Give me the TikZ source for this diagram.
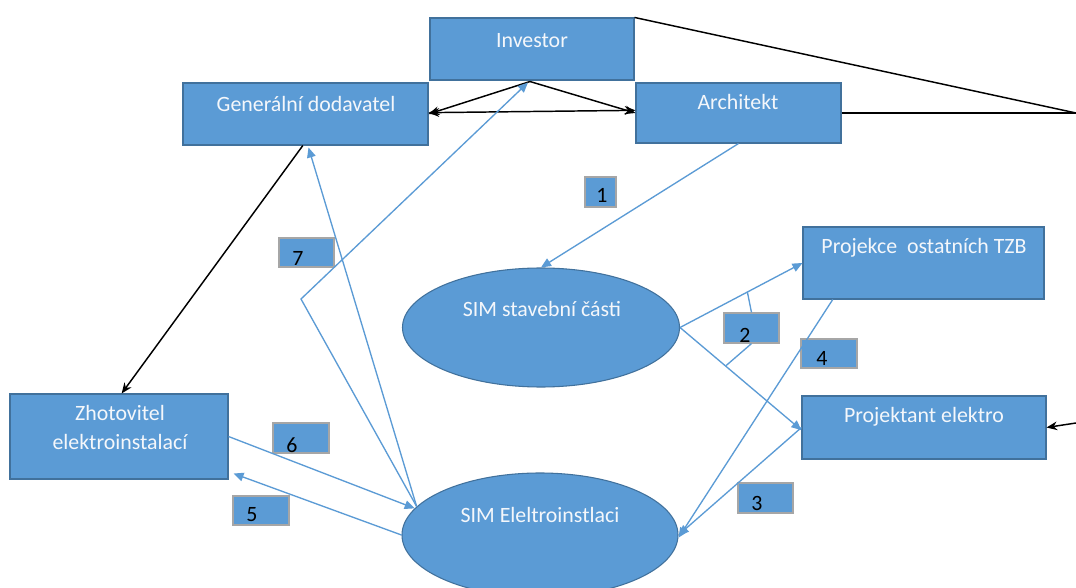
\documentclass[tikz,border=0pt]{standalone}
\usepackage{fontspec}
\setmainfont{Carlito}
\usetikzlibrary{arrows.meta,shapes.geometric,calc}
\definecolor{boxblue}{HTML}{5B9BD5}
\definecolor{boxedge}{HTML}{41719C}
\definecolor{lbledge}{HTML}{A6A6A6}
\definecolor{txtw}{HTML}{F4F7FB}
\begin{document}
\begin{tikzpicture}[x=0.75pt,y=-0.75pt,
  box/.style={rectangle,draw=boxedge,fill=boxblue,line width=0.8pt,inner sep=0pt},
  oval/.style={ellipse,draw=boxedge,fill=boxblue,line width=0.8pt,inner sep=0pt},
  txt/.style={text=txtw,font=\fontsize{16.4}{22}\selectfont,inner sep=0pt,align=center},
  numbox/.style={rectangle,draw=lbledge,fill=boxblue,line width=0.9pt,inner sep=0pt,minimum height=22.5pt},
  num/.style={text=black,font=\fontsize{16.4}{20}\selectfont,inner sep=0pt},
  bl/.style={draw=boxblue,line width=1pt,-{Triangle[length=7.5pt,width=6.5pt]}},
  blp/.style={draw=boxblue,line width=1pt},
  bk/.style={draw=black,line width=1.1pt,-{Stealth[length=8pt,width=6.5pt]}},
  bkb/.style={draw=black,line width=1.1pt,{Stealth[length=8pt,width=6.5pt]}-{Stealth[length=8pt,width=6.5pt]}},
  bkl/.style={draw=black,line width=1.1pt}]
\useasboundingbox (0,0) rectangle (1076,588);
\fill[white] (0,0) rectangle (1076,588);

% main boxes
\node[box,minimum width=153pt,minimum height=46.5pt] (inv) at (532,49) {};
\node[box,minimum width=183.75pt,minimum height=46.5pt] (gen) at (305.5,114) {};
\node[box,minimum width=153.75pt,minimum height=45pt] (arch) at (738.5,113) {};
\node[box,minimum width=163.5pt,minimum height=63.75pt] (zho) at (119,436.5) {};
\node[box,minimum width=180.75pt,minimum height=54pt] (proj) at (923.5,263) {};
\node[box,minimum width=183pt,minimum height=47.25pt] (pel) at (924,427.5) {};
\node[oval,minimum width=207.75pt,minimum height=89.25pt] (sims) at (541,327.5) {};
\node[oval,minimum width=207pt,minimum height=93pt] (sime) at (540,535) {};

% texts
\node[txt] (invT) at (532,41) {Investor};
\node[txt] (genT) at (306,104) {Generální dodavatel};
\node[txt] (archT) at (738,102) {Architekt};
\node[txt] (zhoT1) at (120,413) {Zhotovitel};
\node[txt] (zhoT2) at (120,442) {elektroinstalací};
\node[txt] (projT) at (924,248) {Projekce~ ostatních TZB};
\node[txt] (pelT) at (924,417) {Projektant elektro};
\node[txt] (simsT) at (542,309) {SIM stavební části};
\node[txt] (simeT) at (540,515) {SIM Eleltroinstlaci};

% number boxes
\node[numbox,minimum width=23.25pt] (b1) at (600.5,192) {};
\node[numbox,minimum width=41.25pt] (b2) at (751.5,328) {};
\node[numbox,minimum width=41.25pt] (b3) at (765.5,498) {};
\node[numbox,minimum width=42pt,minimum height=21.75pt] (b4) at (829,353.5) {};
\node[numbox,minimum width=42pt,minimum height=21.75pt] (b5) at (261,510.5) {};
\node[numbox,minimum width=42pt] (b6) at (301,438) {};
\node[numbox,minimum width=41.25pt,minimum height=21.75pt] (b7) at (306.5,252.5) {};
\node[num] (n1) at (602,195) {1};
\node[num] (n2) at (745,335) {2};
\node[num] (n3) at (757,503) {3};
\node[num] (n4) at (822,358) {4};
\node[num] (n5) at (252,515) {5};
\node[num] (n6) at (292,445) {6};
\node[num] (n7) at (298,258) {7};

% free ends at the right edge
\coordinate (offA) at (1076,113);
\coordinate (offB) at (1076,423);
\coordinate (bend7) at (301,299);

% black connectors
\draw[bkl] (inv.north east) -- (offA);
\draw[bkl] (arch.east) -- (offA);
\draw[bk] ([shift={(-2,1)}]inv.south) -- (gen.east);
\draw[bk] ([shift={(-2,1)}]inv.south) -- (arch.west);
\draw[bkb] ([yshift=1]gen.east) -- ([yshift=2]arch.west);
\draw[bk] ([xshift=-2]gen.south) -- ([xshift=2]zho.north);
\draw[bk] (offB) -- (pel.east);

% blue connectors
\draw[bl] (arch.south) -- (sims.north);
\draw[bl] (sims.east) -- (proj.west);
\draw[bl] (sims.east) -- ([yshift=-2]pel.west);
\draw[bl] ($(proj.south west)!0.125!(proj.south east)$) -- ([yshift=-2]sime.east);
\draw[bl] (pel.west) -- (sime.east);
\draw[bl] (zho.east) -- (sime.168);
\draw[bl] (sime.west) -- ([shift={(5,-6)}]zho.south east);
\draw[bl] (sime.167) -- ([shift={(3,2)}]gen.south);
\draw[bl] (sime.167) -- (bend7) -- ([shift={(-4,2)}]inv.south);
% leaders of label 2
\draw[blp] (b2.north) -- ($(sims.east)!0.55!(proj.west)$);
\draw[blp] (b2.south) -- ($(sims.east)!0.38!(pel.west)$);
\end{tikzpicture}
\end{document}
